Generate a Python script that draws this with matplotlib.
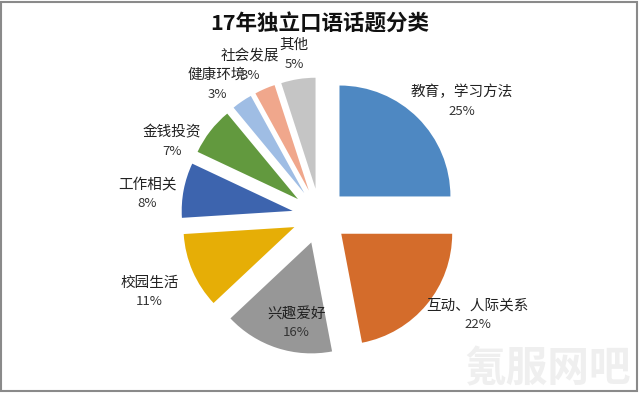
import matplotlib.pyplot as plt
import matplotlib.patches as mpatches
import numpy as np

plt.rcParams['font.family'] = ['Noto Sans CJK SC', 'DejaVu Sans']

# data
topics = ['教育，学习方法', '互动、人际关系', '兴趣爱好', '校园生活', '工作相关',
          '金钱投资', '健康环境', '社会发展', '其他']
shares = [25, 22, 16, 11, 8, 7, 3, 3, 5]

colors = ['#4E88C2', '#D46C2B', '#979797', '#E6AE06', '#3D64AE',
          '#62993E', '#9FBDE4', '#F0A78C', '#C5C5C5']
# label placement: distance from slice centre (in radii) and angle tweak (deg)
label_dist = [1.40, 1.43, 0.73, 1.43, 1.32, 1.25, 1.26, 1.25, 1.23]
label_turn = [-7, 9, 7.6, 0.6, 4, 13, 4.4, 1.6, 0]

fig = plt.figure(figsize=(6.4, 3.93), dpi=100)
ax = fig.add_axes([0.2398, 0.0267, 0.520, 0.847])

wedges, _ = ax.pie(shares, colors=colors, startangle=90, counterclock=False,
                   explode=[0.25] * len(shares), radius=1.0)
ax.set_xlim(-1.5, 1.5)
ax.set_ylim(-1.5, 1.5)
ax.set_aspect('equal')
ax.axis('off')

for w, name, pct, d, t in zip(wedges, topics, shares, label_dist, label_turn):
    mid = np.deg2rad((w.theta1 + w.theta2) / 2 + t)
    cx, cy = w.center
    x = cx + d * w.r * np.cos(mid)
    y = cy + d * w.r * np.sin(mid)
    ax.text(x, y + 0.015, name, ha='center', va='bottom', fontsize=10.5, color='#222222')
    ax.text(x, y - 0.035, f'{pct}%', ha='center', va='top', fontsize=9.5, color='#333333')

fig.text(0.5, 0.94, '17年独立口语话题分类', ha='center', va='center',
         fontsize=15.5, fontweight='bold', color='#111111')

# faint watermark
fig.text(0.855, 0.06, '氪服网吧', ha='center', va='center', fontsize=30,
         fontweight='bold', color='#EFEFEF', zorder=0)

# outer frame
fig.patches.append(mpatches.Rectangle((0.002, 0.005), 0.994, 0.99, transform=fig.transFigure,
                                      fill=False, edgecolor='#8A8A8A', lw=1.5))

fig.savefig('out.png', dpi=100)
